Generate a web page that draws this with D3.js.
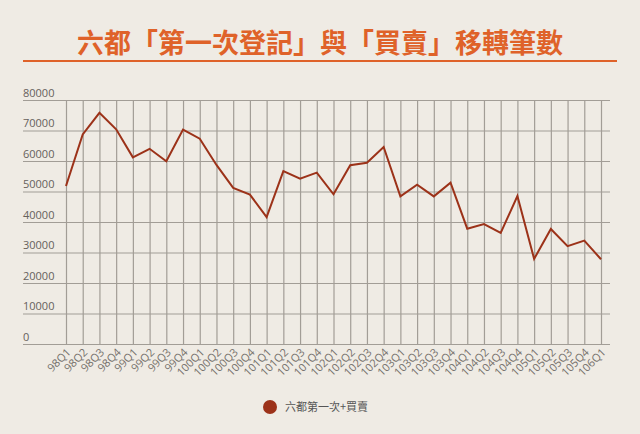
<!DOCTYPE html>
<html>
<head>
<meta charset="utf-8">
<script src="https://cdn.jsdelivr.net/npm/d3@7"></script>
<style>
  html, body { margin: 0; padding: 0; background: #efebe4; }
  svg { display: block; }
</style>
</head>
<body>
<svg id="chart" width="640" height="434"></svg>
<script>
const categories = ["98Q1","98Q2","98Q3","98Q4","99Q1","99Q2","99Q3","99Q4","100Q1","100Q2","100Q3","100Q4","101Q1","101Q2","101Q3","101Q4","102Q1","102Q2","102Q3","102Q4","103Q1","103Q2","103Q3","103Q4","104Q1","104Q2","104Q3","104Q4","105Q1","105Q2","105Q3","105Q4","106Q1"];
const values = [51800,68700,75800,70400,61200,64000,59900,70300,67300,58700,51200,49000,41600,56700,54200,56200,49100,58600,59400,64600,48400,52200,48400,52900,37800,39300,36400,48500,27900,37700,32100,33900,27800];
const yTicks = [0,10000,20000,30000,40000,50000,60000,70000,80000];
const titleText = "六都「第一次登記」與「買賣」移轉筆數";
const seriesName = "六都第一次+買賣";

const svg = d3.select("#chart");
const W = 640, H = 434;
svg.append("rect").attr("width", W).attr("height", H).attr("fill", "#efebe4");

const gridLeft = 23, gridRight = 610;
const x = d3.scalePoint().domain(categories).range([66, 601]);
const y = d3.scaleLinear().domain([0, 80000]).range([344, 100]);

// Title
svg.append("text")
  .attr("x", 320).attr("y", 53)
  .attr("text-anchor", "middle")
  .attr("font-family", "'Noto Sans CJK TC', 'Noto Sans CJK SC', sans-serif")
  .attr("font-weight", "bold")
  .attr("font-size", 27)
  .attr("fill", "#df6229")
  .text(titleText);
svg.append("line")
  .attr("x1", 23).attr("x2", 617).attr("y1", 61).attr("y2", 61)
  .attr("stroke", "#df6229").attr("stroke-width", 2);

// Y axis (gridlines + labels above lines)
const yAxis = svg.append("g")
  .attr("transform", `translate(${gridLeft},0)`)
  .call(d3.axisRight(y).tickValues(yTicks).tickSize(gridRight - gridLeft).tickFormat(d3.format("d")));
yAxis.select(".domain").remove();
yAxis.selectAll(".tick line").attr("stroke", "#a29d96").attr("stroke-width", 1.2);
yAxis.selectAll(".tick text")
  .attr("x", 0).attr("dy", -4)
  .attr("text-anchor", "start")
  .attr("font-family", "'Open Sans', 'Noto Sans', sans-serif")
  .attr("font-size", 11)
  .attr("fill", "#66615c");

// X axis (vertical gridlines + rotated labels)
const xAxis = svg.append("g")
  .attr("transform", `translate(0,${y(0)})`)
  .call(d3.axisBottom(x).tickSize(-(y(0) - y(80000))).tickPadding(0));
xAxis.select(".domain").remove();
xAxis.selectAll(".tick line").attr("stroke", "#a29d96").attr("stroke-width", 1.2);
xAxis.selectAll(".tick text")
  .attr("x", 0).attr("y", 0).attr("dy", 0)
  .attr("transform", "translate(5,9) rotate(-45)")
  .attr("text-anchor", "end")
  .attr("font-family", "'Open Sans', 'Noto Sans', sans-serif")
  .attr("font-size", 11)
  .attr("fill", "#746f6a");

// Line
const line = d3.line()
  .x((d, i) => x(categories[i]))
  .y(d => y(d));
svg.append("path")
  .datum(values)
  .attr("d", line)
  .attr("fill", "none")
  .attr("stroke", "#9c3219")
  .attr("stroke-width", 2)
  .attr("stroke-linejoin", "miter");

// Legend
svg.append("circle").attr("cx", 270).attr("cy", 407).attr("r", 7).attr("fill", "#9c3219");
svg.append("text")
  .attr("x", 285).attr("y", 411)
  .attr("font-family", "'Noto Sans CJK TC', sans-serif")
  .attr("font-size", 11)
  .attr("fill", "#555")
  .text(seriesName);
</script>
</body>
</html>
